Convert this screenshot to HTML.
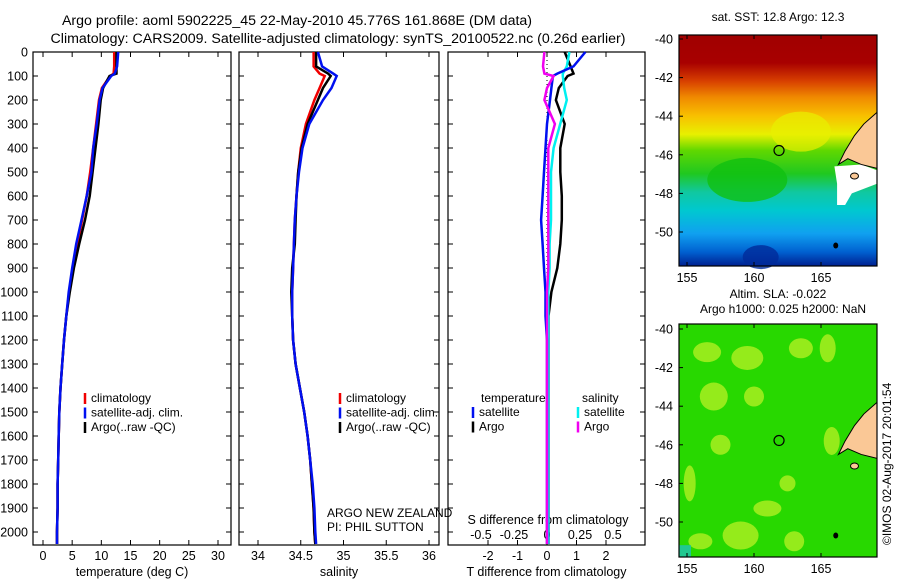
<!DOCTYPE html>
<html><head><meta charset="utf-8">
<style>
html,body{margin:0;padding:0;background:#fff;}
svg text{font-family:"Liberation Sans",sans-serif;fill:#000;}
</style></head>
<body>
<svg id="fig" width="900" height="580" viewBox="0 0 900 580" xmlns="http://www.w3.org/2000/svg">
<defs>
<linearGradient id="sstg" x1="0" y1="0" x2="0" y2="1">
<stop offset="0" stop-color="#a00000"/><stop offset="0.12" stop-color="#a80000"/>
<stop offset="0.2" stop-color="#d84000"/><stop offset="0.27" stop-color="#f08a00"/>
<stop offset="0.35" stop-color="#f8c000"/><stop offset="0.43" stop-color="#e8f000"/>
<stop offset="0.5" stop-color="#60d800"/><stop offset="0.6" stop-color="#20c820"/>
<stop offset="0.68" stop-color="#10c8a0"/><stop offset="0.76" stop-color="#00c8d0"/>
<stop offset="0.86" stop-color="#10a0f0"/><stop offset="0.94" stop-color="#0060d0"/>
<stop offset="1" stop-color="#002090"/>
</linearGradient>
</defs>
<g id="titles">
<text x="297" y="25" font-size="14.2" text-anchor="middle">Argo profile: aoml 5902225_45 22-May-2010 45.776S 161.868E (DM data)</text>
<text x="338" y="43" font-size="14.2" text-anchor="middle">Climatology: CARS2009. Satellite-adjusted climatology: synTS_20100522.nc (0.26d earlier)</text>
</g>
<g id="p1"></g>
<g id="p2"></g>
<g id="p3"></g>
<g id="m1"></g>
<g id="m2"></g>
</svg>
<script>
// depths (m)
const depths = [0,60,90,100,150,200,300,400,500,600,700,800,900,1000,1100,1200,1300,1400,1500,1600,1700,1800,1900,2000,2050];
// temperature (deg C)
const tempClim = [12.2,12.2,12.1,11.5,10.1,9.6,9.1,8.6,8.1,7.5,6.7,5.9,5.1,4.5,4.0,3.6,3.3,3.0,2.8,2.7,2.6,2.5,2.5,2.4,2.4];
const tempSat  = [12.9,12.7,12.3,11.7,10.2,9.7,9.2,8.6,8.3,7.5,6.6,5.7,5.0,4.4,4.0,3.6,3.3,3.0,2.8,2.7,2.6,2.5,2.5,2.4,2.4];
const tempArgo = [12.6,12.6,12.6,11.4,10.3,9.9,9.5,9.0,8.5,8.0,7.2,6.2,5.3,4.6,4.0,3.6,3.3,3.0,2.8,2.7,2.6,2.5,2.5,2.4,2.4];
// salinity
const salClim = [34.65,34.65,34.72,34.78,34.72,34.66,34.56,34.50,34.47,34.45,34.43,34.42,34.41,34.40,34.40,34.41,34.44,34.49,34.54,34.58,34.61,34.63,34.65,34.66,34.67];
const salSat  = [34.70,34.75,34.88,34.92,34.86,34.76,34.60,34.52,34.48,34.45,34.43,34.42,34.41,34.40,34.40,34.41,34.44,34.49,34.54,34.58,34.61,34.64,34.66,34.67,34.68];
const salArgo = [34.68,34.68,34.82,34.85,34.76,34.70,34.58,34.51,34.47,34.45,34.44,34.43,34.40,34.39,34.40,34.41,34.44,34.49,34.54,34.58,34.61,34.63,34.65,34.66,34.67];
// differences from climatology
const dTSat  = [1.3,0.9,0.35,0.2,0.15,0.1,0.0,-0.05,-0.1,-0.15,-0.2,-0.15,-0.1,-0.05,-0.05,0,0,0,0,0,0,0,0,0,0];
const dTArgo = [0.6,0.8,0.9,0.7,0.4,0.3,0.6,0.45,0.45,0.5,0.5,0.45,0.35,0.15,0.05,0.05,0.05,0.05,0.05,0.05,0.05,0.05,0.05,0.05,0.05];
const dSSat  = [0.17,0.15,0.12,0.12,0.13,0.15,0.10,0.05,0.03,0.03,0.03,0.02,0.02,0.01,0.01,0.01,0.01,0.01,0.01,0.01,0.01,0.01,0.01,0.01,0.01];
const dSArgo = [-0.02,-0.03,-0.02,0.05,0.0,-0.02,0.06,0.01,0.01,0.01,0.01,0.01,0.01,0.0,0.0,0.0,0.0,0.0,0.0,0.0,0.0,0.0,0.0,0.0,0.0];
const depthTicks = [0,100,200,300,400,500,600,700,800,900,1000,1100,1200,1300,1400,1500,1600,1700,1800,1900,2000];
const tempTicks = [0,5,10,15,20,25,30];
const salTicks = [34,34.5,35,35.5,36];
const salTickLabels = ["34","34.5","35","35.5","36"];
const dTTicks = [-2,-1,0,1,2];
const dSTicks = [-0.5,-0.25,0,0.25,0.5];
const dSTickLabels = ["-0.5","-0.25","0","0.25","0.5"];
const latTicks = [-40,-42,-44,-46,-48,-50];
const lonTicks = [155,160,165];
const argoLon = 161.868, argoLat = -45.776;

const NS='http://www.w3.org/2000/svg';
function mk(parent,tag,attrs,txt){const e=document.createElementNS(NS,tag);for(const k in attrs)e.setAttribute(k,attrs[k]);if(txt!==undefined)e.textContent=txt;parent.appendChild(e);return e;}
const yD = d => 52 + d*0.24;
const Y0=52, Y1=545;

function frame(g,x0,x1,ticks,xf,labels,xlabel){
  const r=mk(g,'rect',{x:x0,y:Y0,width:x1-x0,height:Y1-Y0,fill:'none',stroke:'#000','stroke-width':1.2});
  
  ticks.forEach((t,i)=>{const x=xf(t);
    mk(g,'line',{x1:x,x2:x,y1:Y1,y2:Y1-5,stroke:'#000'});mk(g,'line',{x1:x,x2:x,y1:Y0,y2:Y0+5,stroke:'#000'});
    const tl=mk(g,'text',{x:x,y:Y1+15,'font-size':12.5,'text-anchor':'middle'},labels?labels[i]:String(t));
    });
  depthTicks.forEach(d=>{const y=yD(d);mk(g,'line',{x1:x0,x2:x0+5,y1:y,y2:y,stroke:'#000'});mk(g,'line',{x1:x1,x2:x1-5,y1:y,y2:y,stroke:'#000'});});
  if(xlabel){const xl=mk(g,'text',{x:(x0+x1)/2,y:Y1+31,'font-size':12.5,'text-anchor':'middle'},xlabel);
    }
}
function line(g,vals,xf,color,name,w){
  const pts=vals.map((v,i)=>xf(v).toFixed(1)+','+yD(depths[i]).toFixed(1)).join(' ');
  const p=mk(g,'polyline',{points:pts,fill:'none',stroke:color,'stroke-width':w||2.5});
  
}
function legend(g,x,y,items){
  items.forEach((it,i)=>{const yy=y+i*14.5;
    mk(g,'line',{x1:x,x2:x,y1:yy-9,y2:yy+2,stroke:it[1],'stroke-width':2.5});
    const t=mk(g,'text',{x:x+6,y:yy,'font-size':12},it[0]);
    });
}
// Panel 1
const p1=document.getElementById('p1');
const xT=t=>43+t*5.833;
depthTicks.forEach(d=>{const t=mk(p1,'text',{x:28,y:yD(d)+4.5,'font-size':12.5,'text-anchor':'end'},String(d));});
frame(p1,33,231,tempTicks,xT,null,'temperature (deg C)');
line(p1,tempClim,xT,'#f00000','temp-climatology-line');
line(p1,tempArgo,xT,'#000','temp-argo-line');
line(p1,tempSat,xT,'#0010f0','temp-satellite-line');
legend(p1,85,402,[['climatology','#f00000'],['satellite-adj. clim.','#0010f0'],['Argo(..raw -QC)','#000']]);
// Panel 2
const p2=document.getElementById('p2');
const xS=s=>258+(s-34)*85.5;
frame(p2,239,439,salTicks,xS,salTickLabels,'salinity');
line(p2,salClim,xS,'#f00000','sal-climatology-line');
line(p2,salArgo,xS,'#000','sal-argo-line');
line(p2,salSat,xS,'#0010f0','sal-satellite-line');
legend(p2,340,402,[['climatology','#f00000'],['satellite-adj. clim.','#0010f0'],['Argo(..raw -QC)','#000']]);
mk(p2,'text',{x:327,y:517,'font-size':12},'ARGO NEW ZEALAND');
mk(p2,'text',{x:327,y:531,'font-size':12},'PI: PHIL SUTTON');
// Panel 3
const p3=document.getElementById('p3');
const xDT=t=>547+t*29.5;
const xDS=s=>547+s*132;
frame(p3,448,645,dTTicks,xDT,null,'T difference from climatology');
mk(p3,'line',{x1:547,x2:547,y1:Y0,y2:Y1,stroke:'#000','stroke-dasharray':'1,3'});
dSTicks.forEach((s,i)=>{const t=mk(p3,'text',{x:xDS(s),y:539,'font-size':12.5,'text-anchor':'middle'},dSTickLabels[i]);});
mk(p3,'text',{x:548,y:524,'font-size':12.5,'text-anchor':'middle'},'S difference from climatology');
line(p3,dTArgo,xDT,'#000','tdiff-argo-line');
line(p3,dSSat,xDS,'#00f0f0','sdiff-satellite-line');
line(p3,dTSat,xDT,'#0010f0','tdiff-satellite-line');
line(p3,dSArgo,xDS,'#f000f0','sdiff-argo-line');
mk(p3,'text',{x:481,y:402,'font-size':12},'temperature');
mk(p3,'text',{x:582,y:402,'font-size':12},'salinity');
legend(p3,473,416,[['satellite','#0010f0'],['Argo','#000']]);
legend(p3,578,416,[['satellite','#00f0f0'],['Argo','#f000f0']]);

// Maps
function map(g,y0,y1,lat40,lat50,title,fillFn){
  const x0=679,x1=877;
  const lx=l=>687+(l-155)*13.4;
  const ly=l=>lat40+(-40-l)*(lat50-lat40)/10;
  fillFn(g,x0,y0,x1,y1,lx,ly);
  const land=mk(g,'path',{d:`M${lx(166.3)},${ly(-46.5)} L${lx(166.8)},${ly(-45.8)} L${lx(167.5)},${ly(-45)} L${lx(168.2)},${ly(-44.4)} L${x1},${ly(-43.8)} L${x1},${ly(-46.7)} L${lx(168)},${ly(-46.5)} L${lx(167)},${ly(-46.2)} Z`,fill:'#fac896',stroke:'#000','stroke-width':1});
  
  mk(g,'ellipse',{cx:lx(167.5),cy:ly(-47.1),rx:4,ry:3,fill:'#fac896',stroke:'#000'});
  mk(g,'ellipse',{cx:lx(166.1),cy:ly(-50.7),rx:2.5,ry:3,fill:'#000'});
  const c=mk(g,'circle',{cx:lx(argoLon),cy:ly(argoLat),r:5,fill:'none',stroke:'#000','stroke-width':1.2});
  
  const fr=mk(g,'rect',{x:x0,y:y0,width:x1-x0,height:y1-y0,fill:'none',stroke:'#000','stroke-width':1.2});
  
  latTicks.forEach(l=>{const y=ly(l);mk(g,'line',{x1:x0,x2:x0+4,y1:y,y2:y,stroke:'#000'});
    const t=mk(g,'text',{x:x0-6,y:y+4.5,'font-size':12.5,'text-anchor':'end'},String(l));});
  lonTicks.forEach(l=>{const x=lx(l);mk(g,'line',{x1:x,x2:x,y1:y1,y2:y1-4,stroke:'#000'});mk(g,'line',{x1:x,x2:x,y1:y0,y2:y0+4,stroke:'#000'});
    const t=mk(g,'text',{x:x,y:y1+16,'font-size':12.5,'text-anchor':'middle'},String(l));});
  title.forEach((s,i)=>mk(g,'text',{x:778+(i?5:0),y:y0-14+i*15-(title.length>1?12:0),'font-size':12,'text-anchor':'middle'},s));
}
const m1=document.getElementById('m1');
map(m1,35,266,39,232,['sat. SST: 12.8 Argo: 12.3'],(g,x0,y0,x1,y1,lx,ly)=>{
  mk(g,'rect',{x:x0,y:y0,width:x1-x0,height:y1-y0,fill:'url(#sstg)'});
  mk(g,'ellipse',{cx:lx(159.5),cy:ly(-47.3),rx:40,ry:22,fill:'#10c010',opacity:0.8});
  mk(g,'ellipse',{cx:lx(163.5),cy:ly(-44.8),rx:30,ry:20,fill:'#e8f000',opacity:0.7});
  mk(g,'ellipse',{cx:lx(160.5),cy:ly(-51.3),rx:18,ry:12,fill:'#002a9a',opacity:0.8});
  mk(g,'path',{d:`M${lx(166)},${ly(-46.6)} L${lx(168)},${ly(-46.5)} L${x1},${ly(-46.8)} L${x1},${ly(-47.5)} L${lx(167.3)},${ly(-48)} L${lx(166.8)},${ly(-48.6)} L${lx(166.2)},${ly(-48.6)} L${lx(166.2)},${ly(-47.5)} Z`,fill:'#fff'});
});
const m2=document.getElementById('m2');
map(m2,324,557,329,522,['Altim. SLA: -0.022','Argo h1000: 0.025 h2000: NaN'],(g,x0,y0,x1,y1,lx,ly)=>{
  mk(g,'rect',{x:x0,y:y0,width:x1-x0,height:y1-y0,fill:'#28d800'});
  [[156.5,-41.2,14,10],[159.5,-41.5,16,12],[157,-43.5,14,14],[160,-43.5,10,10],[163.5,-41,12,10],[165.5,-41,8,14],
   [159,-50.7,18,14],[161,-49.3,14,8],[163,-51,10,10],[155.2,-48,6,18],[165.8,-45.8,8,14],[157.5,-46,10,10],[162.5,-48,8,8],[156,-51,12,8]]
   .forEach(b=>mk(g,'ellipse',{cx:lx(b[0]),cy:ly(b[1]),rx:b[2],ry:b[3],fill:'#a8ee20',opacity:0.85}));
  mk(g,'rect',{x:x0,y:ly(-51.2),width:12,height:y1-ly(-51.2),fill:'#20c890'});
});
const cr=mk(document.getElementById('fig'),'text',{x:891,y:545,'font-size':12,transform:'rotate(-90 891 545)'},'©IMOS 02-Aug-2017 20:01:54');


</script>
</body></html>
